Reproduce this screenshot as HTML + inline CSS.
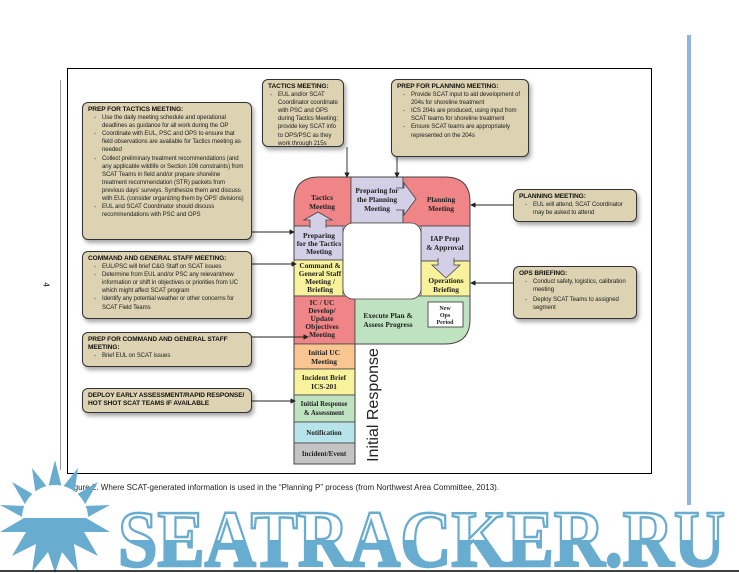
<!DOCTYPE html>
<html><head><meta charset="utf-8"><style>
body{margin:0;width:739px;height:573px;background:#fff;position:relative;overflow:hidden;font-family:"Liberation Sans",sans-serif}
.b{position:absolute;background:#ddd3b2;border:1.3px solid #333;border-radius:6px;box-shadow:2px 3px 4px rgba(0,0,0,.35);font-size:6.1px;line-height:8.1px;letter-spacing:-0.1px;color:#222;padding:3px 5px;box-sizing:border-box}
.b h{display:block;font-weight:bold;font-size:6.6px;color:#111}
.b ul{margin:0;padding:0 0 0 14px;list-style:none}
.b li{position:relative}
.b li:before{content:"-";position:absolute;left:-8px}
</style></head><body>
<div style="position:absolute;left:60px;top:80px;width:1px;height:390px;background:#999"></div>
<div style="position:absolute;left:44px;top:280px;font-size:8px;transform:rotate(90deg)">4</div>
<div style="position:absolute;left:687px;top:35px;width:4px;height:470px;background:#8fb4e0"></div>
<div style="position:absolute;left:67px;top:68px;width:583px;height:404px;border:1px solid #000"></div>

<svg width="739" height="573" style="position:absolute;left:0;top:0" font-family="Liberation Serif,serif" font-weight="bold" font-size="7.4" text-anchor="middle">
<defs><clipPath id="cp"><path d="M294,464 V202 Q294,177 319,177 H445 Q470,177 470,202 V319 Q470,344 445,344 H355 V464 Z"/></clipPath>
<marker id="ar" markerWidth="6" markerHeight="6" refX="5" refY="3" orient="auto"><path d="M0,0 L6,3 L0,6 Z" fill="#222"/></marker>
<linearGradient id="wg" x1="0" y1="0" x2="0" y2="1"><stop offset="0.5" stop-color="#fff"/><stop offset="0.5" stop-color="#68acd0"/></linearGradient></defs>
<g clip-path="url(#cp)" stroke="#444" stroke-width="0.8">
<rect x="294" y="177" width="57" height="49" fill="#ef8587"/>
<rect x="351" y="177" width="52" height="46" fill="#d2cfe7"/>
<rect x="403" y="177" width="67" height="49" fill="#ef8587"/>
<rect x="294" y="226" width="49" height="34" fill="#d2cfe7"/>
<rect x="294" y="260" width="49" height="36" fill="#f7f29b"/>
<rect x="294" y="296" width="61" height="48" fill="#ef8587"/>
<rect x="421" y="226" width="49" height="35" fill="#d2cfe7"/>
<rect x="421" y="261" width="49" height="38" fill="#f7f29b"/>
<rect x="355" y="296" width="115" height="48" fill="#bfe3c0"/>
<rect x="294" y="344" width="61" height="25" fill="#f9c692"/>
<rect x="294" y="369" width="61" height="26" fill="#f7f29b"/>
<rect x="294" y="395" width="61" height="27" fill="#bfe3c0"/>
<rect x="294" y="422" width="61" height="21" fill="#b7e3ea"/>
<rect x="294" y="443" width="61" height="21" fill="#c3c3c3"/>
</g>
<path d="M294,464 V202 Q294,177 319,177 H445 Q470,177 470,202 V319 Q470,344 445,344 H355 V464 Z" fill="none" stroke="#444" stroke-width="1"/>
<rect x="343" y="223" width="78" height="76" rx="10" fill="#fff" stroke="#444" stroke-width="0.8"/>
<g fill="#d2cfe7" stroke="#444" stroke-width="0.8">
<path d="M310,228 V220 H304 L318,212 L332,220 H326 V228"/>
<path d="M396,188 H404 V183 L416,199 L404,215 V210 H396"/>
<path d="M438,258 V265 H432 L446,278 L460,265 H454 V258"/>
</g>
<rect x="428" y="302" width="35" height="25" fill="#fff" stroke="#333" stroke-width="0.8"/>
<g fill="#222">
<text x="322" y="200">Tactics</text><text x="322" y="209">Meeting</text>
<text x="377" y="193">Preparing for</text><text x="377" y="202">the Planning</text><text x="377" y="211">Meeting</text>
<text x="441" y="202">Planning</text><text x="441" y="211">Meeting</text>
<text x="319" y="238">Preparing</text><text x="319" y="246">for the Tactics</text><text x="319" y="254">Meeting</text>
<text x="320" y="268">Command &amp;</text><text x="320" y="276">General Staff</text><text x="320" y="284">Meeting /</text><text x="320" y="292">Briefing</text>
<text x="322" y="305">IC / UC</text><text x="322" y="313">Develop/</text><text x="322" y="321">Update</text><text x="322" y="329">Objectives</text><text x="322" y="337">Meeting</text>
<text x="445" y="241">IAP Prep</text><text x="445" y="250">&amp; Approval</text>
<text x="446" y="283">Operations</text><text x="446" y="292">Briefing</text>
<text x="388" y="318">Execute Plan &amp;</text><text x="388" y="327">Assess Progress</text>
<text x="445" y="310" font-size="6">New</text><text x="445" y="317" font-size="6">Ops</text><text x="445" y="324" font-size="6">Period</text>
<text x="324" y="355">Initial UC</text><text x="324" y="364">Meeting</text>
<text x="324" y="380">Incident Brief</text><text x="324" y="389">ICS-201</text>
<text x="324" y="406" font-size="6.8">Initial Response</text><text x="324" y="415" font-size="6.8">&amp; Assessment</text>
<text x="324" y="435" font-size="7">Notification</text>
<text x="324" y="456" font-size="7">Incident/Event</text>
<text transform="translate(378,405) rotate(-90)" font-family="Liberation Sans,sans-serif" font-weight="normal" font-size="16">Initial Response</text>
</g>
<g stroke="#222" stroke-width="0.9" marker-end="url(#ar)">
<line x1="252" y1="232" x2="294" y2="232"/>
<line x1="347" y1="147" x2="347" y2="177"/>
<line x1="397" y1="157" x2="397" y2="177"/>
<line x1="513" y1="205" x2="471" y2="205"/>
<line x1="513" y1="283" x2="471" y2="283"/>
<line x1="252" y1="264" x2="296" y2="264"/>
<line x1="252" y1="337" x2="308" y2="337"/>
<line x1="252" y1="401" x2="295" y2="401"/>
</g>
<text x="67" y="490" text-anchor="start" font-family="Liberation Sans,sans-serif" font-weight="normal" font-size="8" fill="#222">Figure 2.   Where SCAT-generated information is used in the “Planning P” process (from Northwest Area Committee, 2013).</text>
<g fill="#68acd0">
<polygon points="55,460 62,488 78,468 74,496 98,482 84,506 110,505 86,518 110,532 84,532 98,556 74,544 78,572 62,552 55,573 48,552 32,572 36,544 12,556 26,532 0,532 24,518 0,505 26,506 12,482 36,496 32,468 48,488"/>
</g>
<path d="M22,518 A33,33 0 0 1 88,518 Z" fill="#fff"/>
<text x="118" y="566" text-anchor="start" font-family="Liberation Serif,serif" font-weight="bold" font-size="80" textLength="607" lengthAdjust="spacingAndGlyphs" fill="url(#wg)" stroke="#68acd0" stroke-width="2.5">SEATRACKER.RU</text>
<line x1="0" y1="571" x2="739" y2="571" stroke="#000" stroke-width="1.5"/>
</svg>

<div class="b" style="left:82px;top:102px;width:170px;height:138px"><h>PREP FOR TACTICS MEETING:</h><ul><li>Use the daily meeting schedule and operational deadlines as guidance for all work during the OP</li><li>Coordinate with EUL, PSC and OPS to ensure that field observations are available for Tactics meeting as needed</li><li>Collect preliminary treatment recommendations (and any applicable wildlife or Section 106 constraints) from SCAT Teams in field and/or prepare shoreline treatment recommendation (STR) packets from previous days' surveys. Synthesize them and discuss with EUL (consider organizing them by OPS' divisions)</li><li>EUL and SCAT Coordinator should discuss recommendations with PSC and OPS</li></ul></div>
<div class="b" style="left:262px;top:79px;width:82px;height:68px"><h>TACTICS MEETING:</h><ul style="padding-left:10px"><li>EUL and/or SCAT Coordinator coordinate with PSC and OPS during Tactics Meeting; provide key SCAT info to OPS/PSC as they work through 215s</li></ul></div>
<div class="b" style="left:391px;top:79px;width:138px;height:78px"><h>PREP FOR PLANNING MEETING:</h><ul><li>Provide SCAT input to aid development of 204s for shoreline treatment</li><li>ICS 204s are produced, using input from SCAT teams for shoreline treatment</li><li>Ensure SCAT teams are appropriately represented on the 204s</li></ul></div>
<div class="b" style="left:513px;top:189px;width:124px;height:33px"><h>PLANNING MEETING:</h><ul><li>EUL will attend, SCAT Coordinator may be asked to attend</li></ul></div>
<div class="b" style="left:513px;top:266px;width:124px;height:53px"><h>OPS BRIEFING:</h><ul><li>Conduct safety, logistics, calibration meeting</li><li style="margin-top:2px">Deploy SCAT Teams to assigned segment</li></ul></div>
<div class="b" style="left:82px;top:251px;width:170px;height:68px"><h>COMMAND AND GENERAL STAFF MEETING:</h><ul><li>EUL/PSC will brief C&amp;G Staff on SCAT issues</li><li>Determine from EUL and/or PSC any relevant/new information or shift in objectives or priorities from UC which might affect SCAT program</li><li>Identify any potential weather or other concerns for SCAT Field Teams</li></ul></div>
<div class="b" style="left:82px;top:332px;width:170px;height:35px"><h>PREP FOR COMMAND AND GENERAL STAFF MEETING:</h><ul><li>Brief EUL on SCAT issues</li></ul></div>
<div class="b" style="left:82px;top:388px;width:170px;height:25px"><h>DEPLOY EARLY ASSESSMENT/RAPID RESPONSE/ HOT SHOT SCAT TEAMS IF AVAILABLE</h></div>
</body></html>
